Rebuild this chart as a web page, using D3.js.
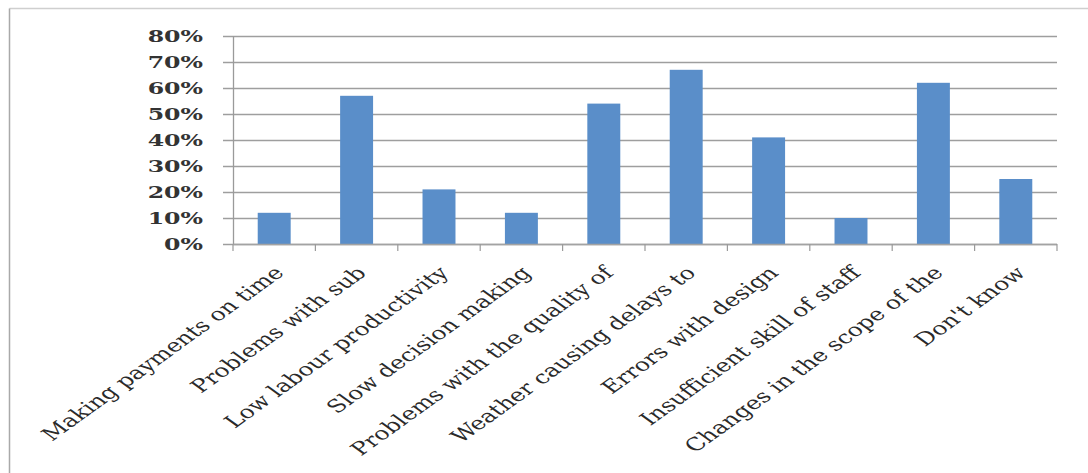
<!DOCTYPE html>
<html>
<head>
<meta charset="utf-8">
<script src="https://cdn.jsdelivr.net/npm/d3@7"></script>
<style>
html,body{margin:0;padding:0;background:#fff;}
svg{display:block;}
</style>
</head>
<body>
<svg id="chart" width="1088" height="473"></svg>
<script>
const categories = [
  "Making payments on time",
  "Problems with sub",
  "Low labour productivity",
  "Slow decision making",
  "Problems with the quality of",
  "Weather causing delays to",
  "Errors with design",
  "Insufficient skill of staff",
  "Changes in the scope of the",
  "Don't know"
];
const values = [0.12, 0.57, 0.21, 0.12, 0.54, 0.67, 0.41, 0.10, 0.62, 0.25];
const yTicks = [0, 0.1, 0.2, 0.3, 0.4, 0.5, 0.6, 0.7, 0.8];

const SX = 1.39; // horizontal stretch of the source picture
const svg = d3.select("#chart");

// outer frame (top and left edges visible)
svg.append("line").attr("x1", 9.5).attr("x2", 1088).attr("y1", 8.5).attr("y2", 8.5)
  .attr("stroke", "#cfcfcf").attr("stroke-width", 1.5);
svg.append("line").attr("x1", 9.5).attr("x2", 9.5).attr("y1", 8.5).attr("y2", 473)
  .attr("stroke", "#a9a9a9").attr("stroke-width", 1.5);

const x = d3.scaleBand().domain(categories).range([233, 1057])
  .paddingInner(0.6).paddingOuter(0.3);
const y = d3.scaleLinear().domain([0, 0.8]).range([244, 36]);

// gridlines
svg.append("g").selectAll("line").data(yTicks).join("line")
  .attr("x1", 223).attr("x2", 1057)
  .attr("y1", d => Math.round(y(d)) + 0.5).attr("y2", d => Math.round(y(d)) + 0.5)
  .attr("stroke", "#9e9e9e").attr("stroke-width", 1.4);

// y axis line
svg.append("line").attr("x1", 233.5).attr("x2", 233.5).attr("y1", y(0.8)).attr("y2", y(0) + 1)
  .attr("stroke", "#9a9a9a").attr("stroke-width", 1.3);

// bars
svg.append("g").selectAll("rect").data(values).join("rect")
  .attr("x", (d, i) => x(categories[i]))
  .attr("width", x.bandwidth())
  .attr("y", d => y(d))
  .attr("height", d => y(0) - y(d))
  .attr("fill", "#5a8ec9");

// x axis line + boundary ticks
svg.append("line").attr("x1", 233).attr("x2", 1057).attr("y1", 244.5).attr("y2", 244.5)
  .attr("stroke", "#a3a3a3").attr("stroke-width", 1.3);
const step = x.step();
const boundaryX = d3.range(categories.length + 1).map(i => x.range()[0] + i * step);
svg.append("g").selectAll("line").data(boundaryX).join("line")
  .attr("x1", d => d).attr("x2", d => d).attr("y1", 244).attr("y2", 251)
  .attr("stroke", "#9a9a9a").attr("stroke-width", 1.2);

// y tick labels
svg.append("g").selectAll("text").data(yTicks).join("text")
  .attr("transform", d => `translate(203,${y(d) + 6}) scale(${SX},1)`)
  .attr("text-anchor", "end")
  .attr("font-family", "DejaVu Serif")
  .attr("font-weight", "bold")
  .attr("font-size", 17)
  .attr("fill", "#333")
  .text(d3.format(".0%"));

// x tick labels (rotated, stretched like the source)
svg.append("g").selectAll("text").data(categories).join("text")
  .attr("transform", c => `translate(${x(c) + x.bandwidth() / 2 + 11},${274}) scale(${SX},1) rotate(-45)`)
  .attr("text-anchor", "end")
  .attr("font-family", "DejaVu Serif")
  .attr("font-size", 18)
  .attr("fill", "#2a2a2a")
  .text(c => c);
</script>
</body>
</html>
